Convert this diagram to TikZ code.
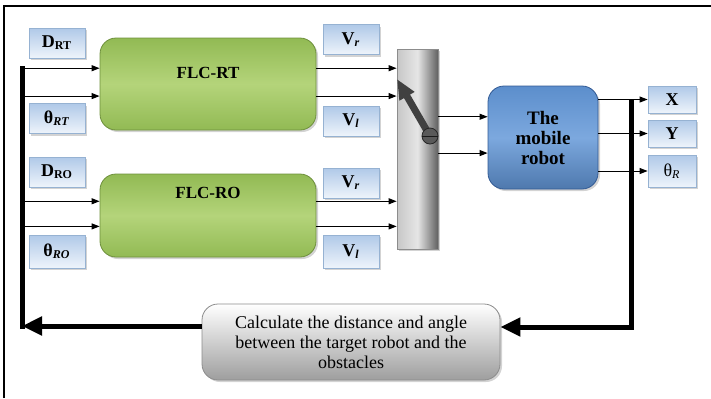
\documentclass[tikz,border=0pt]{standalone}
\usepackage{fontspec}
\setmainfont{Liberation Serif}
\usetikzlibrary{arrows.meta,positioning,shadows,calc}
\definecolor{LblTop}{RGB}{176,201,232}
\definecolor{LblBot}{RGB}{238,244,251}
\definecolor{LblEdge}{RGB}{150,178,210}
\definecolor{FlcTop}{RGB}{146,186,84}
\definecolor{FlcMid}{RGB}{180,212,122}
\definecolor{FlcEdge}{RGB}{110,144,60}
\definecolor{BotTop}{RGB}{92,142,204}
\definecolor{BotMid}{RGB}{124,168,222}
\definecolor{BotEdge}{RGB}{50,90,148}

\begin{document}
\begin{tikzpicture}[x=0.5pt,y=-0.5pt, every node/.style={font=\fontsize{9}{10}\selectfont},
  shade/.style={drop shadow={opacity=0.35,shadow xshift=1pt,shadow yshift=-1pt}},
  lbl/.style={draw=LblEdge,top color=LblTop,bottom color=LblBot,minimum width=28pt,minimum height=15pt,inner sep=0pt,shade},
  flc/.style={draw=FlcEdge,top color=FlcTop,bottom color=FlcTop,middle color=FlcMid,rounded corners=8pt,minimum width=108pt,shade},
  flcname/.style={font=\fontsize{8.5}{10}\selectfont\bfseries},
  robot/.style={draw=BotEdge,top color=BotTop,bottom color=BotTop!85!black,middle color=BotMid,rounded corners=8pt,minimum width=55pt,minimum height=51.5pt,align=center,font=\fontsize{9.5}{10}\selectfont\bfseries,shade},
  switchbar/.style={draw=black!45,left color=black!22,right color=black!62,middle color=black!10,minimum width=20.5pt,minimum height=100pt,shade},
  calcbox/.style={draw=black!45,top color=white,bottom color=black!38,rounded corners=8pt,minimum width=149pt,minimum height=38pt,align=center,font=\fontsize{9}{10}\selectfont,shade},
  pivot/.style={circle,draw=black!85,fill=black!65,minimum size=8pt,inner sep=0pt},
  arr/.style={-{Triangle[length=4pt,width=3pt]},line width=0.5pt},
  fb/.style={-{Triangle[length=10pt,width=9pt]},line width=2.5pt},
  bar/.style={line width=2.5pt,line cap=rect},
  lever/.style={-{Triangle[length=10pt,width=8pt]},line width=3.5pt,black!75}]
\useasboundingbox (0,0) rectangle (711,398);
\draw[line width=1pt] (4,398) -- (4,6) -- (711,6);
% inputs
\node[lbl] (drt) at (57,43) {\textbf{D\textsubscript{RT}}};
\node[lbl] (trt) at (57,118.5) {\textbf{θ\textsubscript{\textit{RT}}}};
\node[lbl] (dro) at (57,172) {\textbf{D\textsubscript{RO}}};
\node[lbl,minimum height=16.5pt] (tro) at (57,251.5) {\textbf{θ\textsubscript{\textit{RO}}}};
% controllers
\node[flc,minimum height=46pt] (flcrt) at (208,84) {};
\node[flcname] (rtname) at (208,73) {FLC-RT};
\node[flc,minimum height=41.5pt] (flcro) at (208,215.5) {};
\node[flcname] (roname) at (208,193) {FLC-RO};
\node[lbl] (vr1) at (351,39.5) {\textbf{V\textsubscript{\textit{r}}}};
\node[lbl] (vl1) at (351,121) {\textbf{V\textsubscript{\textit{l}}}};
\node[lbl] (vr2) at (351,183) {\textbf{V\textsubscript{\textit{r}}}};
\node[lbl,minimum height=16.5pt] (vl2) at (351,251.5) {\textbf{V\textsubscript{\textit{l}}}};
% switch, robot, outputs
\node[switchbar] (sw) at (417.5,149) {};
\node[robot] (bot) at (543,137.5) {The\\mobile\\robot};
\node[lbl,minimum width=24pt,minimum height=13.5pt] (ox) at (672,99.5) {\textbf{X}};
\node[lbl,minimum width=24pt,minimum height=13.5pt] (oy) at (672,133.5) {\textbf{Y}};
\node[lbl,minimum width=24pt,minimum height=16pt] (oth) at (672,171) {θ\textsubscript{\textit{R}}};
\node[calcbox] (calc) at (351,342) {Calculate the distance and angle\\between the target robot and the\\obstacles};
% connectors
\coordinate (lt) at (22,68);
\coordinate (lb) at (22,326);
\coordinate (rbt) at (631,99.5);
\coordinate (rbb) at (631,327);
\foreach \n in {flcrt,flcro}
  \foreach \f [count=\i] in {0.33,0.63} {
    \coordinate (\n-in\i) at ($(\n.north west)!\f!(\n.south west)$);
    \coordinate (\n-out\i) at ($(\n.north east)!\f!(\n.south east)$);
    \draw[arr] (lt |- \n-in\i) -- (\n-in\i);
    \draw[arr] (\n-out\i) -- (sw.west |- \n-out\i);
  }
\foreach \f [count=\i] in {0.30,0.65} {
  \coordinate (bot-in\i) at ($(bot.north west)!\f!(bot.south west)$);
  \draw[arr] (sw.east |- bot-in\i) -- (bot-in\i);
}
\draw[bar] (lt) -- (lb);
\draw[fb] (calc.west |- lb) -- (lb);
\draw[fb] (rbt) -- (rbb) -- (calc.east |- rbb);
\foreach \o in {ox,oy,oth}
  \draw[arr] (bot.east |- \o.west) -- (\o.west);
% lever
\coordinate (leverpt) at (430,136);
\coordinate (tip) at (397,79);
\draw[lever] (leverpt) -- (tip);
\node[pivot] (piv) at (leverpt) {};
\draw[black!90] (piv.west) -- (piv.east);
\end{tikzpicture}
\end{document}
